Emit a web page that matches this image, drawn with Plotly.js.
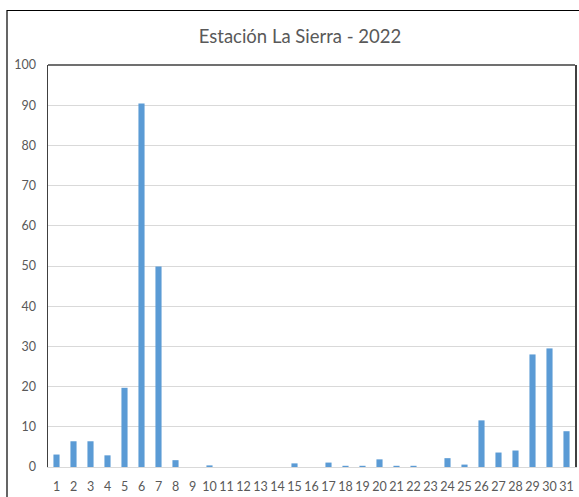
<!DOCTYPE html>
<html>
<head>
<meta charset="utf-8">
<script src="https://cdn.plot.ly/plotly-3.0.1.min.js"></script>
<style>html,body{margin:0;padding:0;background:#fff;}#chart{width:579px;height:497px;}</style>
</head>
<body>
<div id="chart"></div>
<script>
const days = ["1","2","3","4","5","6","7","8","9","10","11","12","13","14","15","16","17","18","19","20","21","22","23","24","25","26","27","28","29","30","31"];
const rainfall = [3.1,6.4,6.4,2.9,19.7,90.4,49.9,1.7,0,0.4,0,0,0,0,0.9,0,1.1,0.3,0.3,1.9,0.3,0.3,0,2.2,0.6,11.6,3.6,4.1,28.0,29.5,8.9];
const yTicks = [0,10,20,30,40,50,60,70,80,90,100];
const chartTitle = "Estación La Sierra - 2022";

const trace = {
  type: "bar",
  x: days,
  y: rainfall,
  marker: {color: "#5B9BD5"},
  hoverinfo: "x+y"
};

const fontFam = "Lato, Open Sans, sans-serif";

const layout = {
  width: 579, height: 497,
  margin: {l: 48, r: 4, t: 65, b: 30},
  paper_bgcolor: "#ffffff",
  plot_bgcolor: "#ffffff",
  font: {family: fontFam, color: "#595959", size: 12},
  title: {text: chartTitle, x: 300/579, xanchor: "center", y: 1 - 37/497, yanchor: "middle",
          font: {size: 18.5, color: "#595959", family: fontFam}},
  bargap: 0.64,
  showlegend: false,
  xaxis: {
    type: "category",
    tickvals: days, ticktext: days,
    showgrid: false,
    showline: true, linecolor: "#d9d9d9", linewidth: 1,
    ticks: "", ticklabelstandoff: 8,
    tickfont: {size: 12.5, color: "#595959", family: fontFam},
    fixedrange: true
  },
  yaxis: {
    range: [0, 100],
    tickvals: yTicks,
    showgrid: true, gridcolor: "#d9d9d9", gridwidth: 1,
    zeroline: false,
    showline: true, mirror: true, linecolor: "#404040", linewidth: 1.5,
    ticks: "", ticklabelstandoff: 8,
    tickfont: {size: 12.5, color: "#595959", family: fontFam},
    fixedrange: true
  },
  shapes: [
    {type: "line", xref: "paper", yref: "paper", x0: 0, x1: 1, y0: 1, y1: 1,
     line: {color: "#404040", width: 1.5}},
    {type: "rect", xref: "paper", yref: "paper",
     x0: (7 - 48) / 527, x1: 1.2, y0: -0.3, y1: 1 + (65 - 10.5) / 402,
     line: {color: "#000000", width: 1.2}, fillcolor: "rgba(0,0,0,0)", layer: "below"}
  ]
};

Plotly.newPlot("chart", [trace], layout, {displayModeBar: false, staticPlot: true});
</script>
</body>
</html>
